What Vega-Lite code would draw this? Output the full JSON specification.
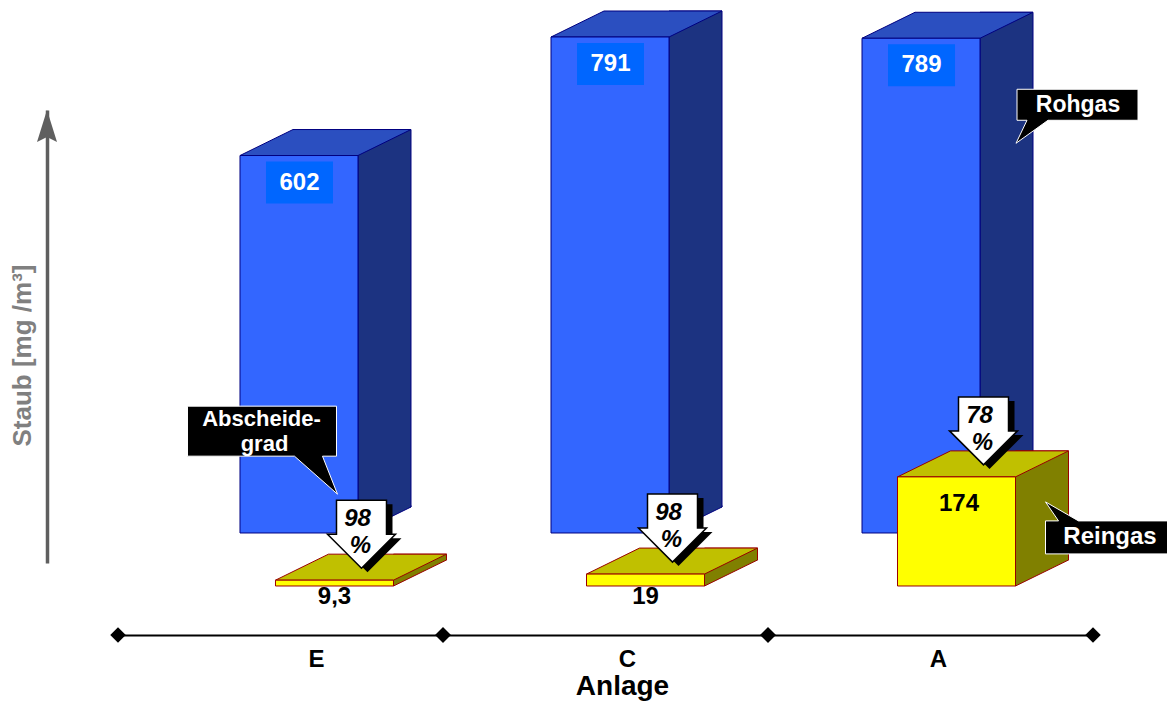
{
  "$schema": "https://vega.github.io/schema/vega-lite/v6.json",
  "width": 975,
  "height": 453,
  "autosize": "none",
  "padding": {"left": 118, "top": 110, "right": 74, "bottom": 140},
  "background": "#ffffff",
  "config": {
    "view": {"stroke": null},
    "font": "Liberation Sans",
    "locale": {"number": {"decimal": ",", "thousands": ".", "grouping": [3], "currency": ["", " €"]}}
  },
  "data": {"values": [
    {"Anlage": "E", "Rohgas": 602, "Reingas": 9.3, "Abscheidegrad": 98},
    {"Anlage": "C", "Rohgas": 791, "Reingas": 19, "Abscheidegrad": 98},
    {"Anlage": "A", "Rohgas": 789, "Reingas": 174, "Abscheidegrad": 78}
  ]},
  "resolve": {"scale": {"x": "independent"}},
  "layer": [
    {
      "encoding": {
        "x": {"field": "Anlage", "type": "nominal", "sort": ["E", "C", "A"],
          "scale": {"type": "band", "paddingInner": 0, "paddingOuter": 0.0675},
          "axis": {"orient": "bottom", "offset": 72, "domain": false, "ticks": false, "grid": false,
            "labelFont": "Liberation Sans", "labelFontSize": 24, "labelFontWeight": "bold", "labelColor": "#000000",
            "labelPadding": 12, "labelOffset": 22, "labelAngle": 0, "labelBaseline": "top", "title": null}}
      },
      "layer": [
        {
          "encoding": {
            "y": {"field": "Rohgas", "type": "quantitative",
              "scale": {"domain": [-47.85, 674.6], "nice": false, "zero": false}}
          },
          "layer": [
            {"mark": {"type": "bar", "width": 53, "xOffset": 90, "yOffset": -26, "y2Offset": -26, "fill": "#1c3381", "stroke": "#000080", "strokeWidth": 1, "opacity": 1},
             "encoding": {"y2": {"datum": 0}}},
            {"mark": {"type": "point", "shape": "M112,-27.5 L112,-26 L59,0 L59,-27.5", "size": 4, "filled": true, "fill": "#1c3381", "stroke": "#000080", "strokeWidth": 1, "opacity": 1, "xOffset": 4.5},
             "encoding": {"y": {"datum": 0, "type": "quantitative"}}},
            {"mark": {"type": "point", "shape": "M-59,0 L59,0 L112,-26 L-6,-26 Z", "size": 4, "filled": true, "fill": "#2b4fc0", "stroke": "#000080", "strokeWidth": 1, "opacity": 1, "xOffset": 4.5}},
            {"mark": {"type": "bar", "width": 118, "xOffset": 4.5, "fill": "#3366ff", "stroke": "#000080", "strokeWidth": 1, "opacity": 1},
             "encoding": {"y2": {"datum": 0}}},
            {"mark": {"type": "point", "shape": "M-33,6 L34,6 L34,48 L-33,48 Z", "size": 4, "filled": true, "fill": "#0066ff", "strokeWidth": 0, "opacity": 1, "xOffset": 4.5}},
            {"mark": {"type": "text", "fontSize": 24, "fontWeight": "bold", "fill": "#ffffff", "align": "center", "baseline": "middle", "xOffset": 5, "yOffset": 27},
             "encoding": {"text": {"field": "Rohgas", "type": "quantitative"}}}
          ]
        },
        {
          "encoding": {
            "y": {"field": "Reingas", "type": "quantitative", "scale": {"domain": [-47.85, 674.6], "nice": false, "zero": false}}
          },
          "layer": [
            {"mark": {"type": "bar", "width": 53, "xOffset": 125.5, "yOffset": 27, "y2Offset": 27, "fill": "#808000", "stroke": "#990000", "strokeWidth": 1, "opacity": 1},
             "encoding": {"y2": {"datum": 0}}},
            {"mark": {"type": "point", "shape": "M112,-27.5 L112,-26 L59,0 L59,-27.5", "size": 4, "filled": true, "fill": "#808000", "stroke": "#990000", "strokeWidth": 1, "opacity": 1, "xOffset": 40, "yOffset": 53},
             "encoding": {"y": {"datum": 0, "type": "quantitative"}}},
            {"mark": {"type": "point", "shape": "M-59,0 L59,0 L112,-26 L-6,-26 Z", "size": 4, "filled": true, "fill": "#c0c000", "stroke": "#990000", "strokeWidth": 1, "opacity": 1, "xOffset": 40, "yOffset": 53}},
            {"mark": {"type": "bar", "width": 118, "xOffset": 40, "yOffset": 53, "y2Offset": 53, "fill": "#ffff00", "stroke": "#990000", "strokeWidth": 1, "opacity": 1},
             "encoding": {"y2": {"datum": 0}}},
            {"mark": {"type": "point", "shape": "M-25,-68 L25,-68 L25,-34 L34,-34 L0,0 L-34,-34 L-25,-34 Z", "size": 4, "filled": true, "fill": "#000000", "strokeWidth": 0, "opacity": 1, "xOffset": 73, "yOffset": 45}},
            {"mark": {"type": "point", "shape": "M-25,-68 L25,-68 L25,-34 L34,-34 L0,0 L-34,-34 L-25,-34 Z", "size": 4, "filled": true, "fill": "#ffffff", "stroke": "#000000", "strokeWidth": 1.5, "opacity": 1, "xOffset": 67, "yOffset": 41}},
            {"mark": {"type": "text", "fontSize": 24, "fontWeight": "bold", "fontStyle": "italic", "fill": "#000000", "align": "center", "baseline": "middle", "xOffset": 63, "yOffset": -8},
             "encoding": {"text": {"field": "Abscheidegrad", "type": "quantitative"}}},
            {"mark": {"type": "text", "text": "%", "fontSize": 24, "fontWeight": "bold", "fontStyle": "italic", "fill": "#000000", "align": "center", "baseline": "middle", "xOffset": 66, "yOffset": 19}},
            {"transform": [{"filter": "datum.Reingas < 100"}],
             "mark": {"type": "text", "fontSize": 24, "fontWeight": "bold", "fill": "#000000", "align": "center", "baseline": "middle", "xOffset": 40, "yOffset": 64},
             "encoding": {"y": {"datum": 0, "type": "quantitative"}, "text": {"field": "Reingas", "type": "quantitative", "format": "~g"}}},
            {"transform": [{"filter": "datum.Reingas >= 100"}],
             "mark": {"type": "text", "fontSize": 24, "fontWeight": "bold", "fill": "#000000", "align": "center", "baseline": "middle", "xOffset": 42.5, "yOffset": 80},
             "encoding": {"text": {"field": "Reingas", "type": "quantitative", "format": "~g"}}},
            {"transform": [{"filter": "datum.Anlage === 'A'"}],
             "mark": {"type": "point", "shape": "M89,44 L102,44 L89,25 L122,44 L215,44 L215,77 L89,77 Z", "size": 4, "filled": true, "fill": "#000000", "stroke": "#ffffff", "strokeWidth": 1, "opacity": 1, "xOffset": 40, "yOffset": 53}},
            {"transform": [{"filter": "datum.Anlage === 'A'"}],
             "mark": {"type": "text", "text": "Reingas", "fontSize": 24, "fontWeight": "bold", "fill": "#ffffff", "align": "center", "baseline": "middle", "xOffset": 193.5, "yOffset": 113}},
            {"transform": [{"filter": "datum.Anlage === 'E'"}],
             "mark": {"type": "point", "shape": "M-174,-155 L-25,-155 L-25,-105 L-39,-105 L-24,-67 L-67,-105 L-174,-105 Z", "size": 4, "filled": true, "fill": "#000000", "stroke": "#ffffff", "strokeWidth": 1, "opacity": 1, "xOffset": 67, "yOffset": 34}},
            {"transform": [{"filter": "datum.Anlage === 'E'"}],
             "mark": {"type": "text", "text": "Abscheide-", "fontSize": 22, "fontWeight": "bold", "fill": "#ffffff", "align": "center", "baseline": "middle", "xOffset": -33, "yOffset": -108}},
            {"transform": [{"filter": "datum.Anlage === 'E'"}],
             "mark": {"type": "text", "text": "grad", "fontSize": 22, "fontWeight": "bold", "fill": "#ffffff", "align": "center", "baseline": "middle", "xOffset": -30, "yOffset": -83}}
          ]
        },
        {
          "transform": [{"filter": "datum.Anlage === 'A'"}],
          "encoding": {
            "y": {"field": "Rohgas", "type": "quantitative", "scale": {"domain": [-47.85, 674.6], "nice": false, "zero": false}}
          },
          "layer": [
            {"mark": {"type": "point", "shape": "M96,51 L217,51 L217,82 L127,82 L95,105 L106,82 L96,82 Z", "size": 4, "filled": true, "fill": "#000000", "stroke": "#ffffff", "strokeWidth": 1, "opacity": 1, "xOffset": 4.5}},
            {"mark": {"type": "text", "text": "Rohgas", "fontSize": 23, "fontWeight": "bold", "fill": "#ffffff", "align": "center", "baseline": "middle", "xOffset": 161.5, "yOffset": 67}}
          ]
        }
      ]
    },
    {
      "encoding": {
        "x": {"field": "Anlage", "type": "nominal", "sort": ["E", "C", "A"],
          "scale": {"type": "band", "paddingInner": 0, "paddingOuter": 0},
          "axis": {"orient": "bottom", "offset": 72, "domain": true, "domainColor": "#000000", "domainWidth": 2,
            "ticks": false, "labels": false, "grid": false,
            "title": "Anlage", "titleFont": "Liberation Sans", "titleFontSize": 28, "titleFontWeight": "bold", "titleColor": "#000000",
            "titleX": 504, "titleY": 59, "titleAlign": "center", "titleBaseline": "alphabetic"}}
      },
      "layer": [
        {"mark": {"type": "point", "shape": "diamond", "size": 240, "filled": true, "fill": "#000000", "strokeWidth": 0, "opacity": 1, "yOffset": 72},
         "encoding": {"x": {"field": "Anlage", "type": "nominal", "sort": ["E", "C", "A"], "bandPosition": 0},
                      "y": {"datum": -47.85, "type": "quantitative"}}},
        {"mark": {"type": "point", "shape": "diamond", "size": 240, "filled": true, "fill": "#000000", "strokeWidth": 0, "opacity": 1, "yOffset": 72},
         "encoding": {"x": {"field": "Anlage", "type": "nominal", "sort": ["E", "C", "A"], "bandPosition": 1},
                      "y": {"datum": -47.85, "type": "quantitative"}}},
        {"transform": [{"filter": "datum.Anlage === 'E'"}],
         "mark": {"type": "point", "shape": "M0,0 L10,32 L0,27 L-10,32 Z", "size": 4, "filled": true, "fill": "#5f5f5f", "strokeWidth": 0, "opacity": 1, "xOffset": -71},
         "encoding": {"x": {"field": "Anlage", "type": "nominal", "sort": ["E", "C", "A"], "bandPosition": 0},
                      "y": {"datum": 674.6, "type": "quantitative",
                        "scale": {"domain": [-47.85, 674.6], "nice": false, "zero": false},
                        "axis": {"orient": "left", "offset": 71, "domain": true, "domainColor": "#5f5f5f", "domainWidth": 3.5,
                          "ticks": false, "labels": false, "grid": false,
                          "title": "Staub [mg /m³]", "titleFont": "Liberation Sans", "titleFontSize": 26, "titleFontWeight": "bold",
                          "titleColor": "#808080", "titleAngle": 270, "titleX": -25, "titleY": 245,
                          "titleAlign": "center", "titleBaseline": "middle"}}}}
      ]
    }
  ]
}
